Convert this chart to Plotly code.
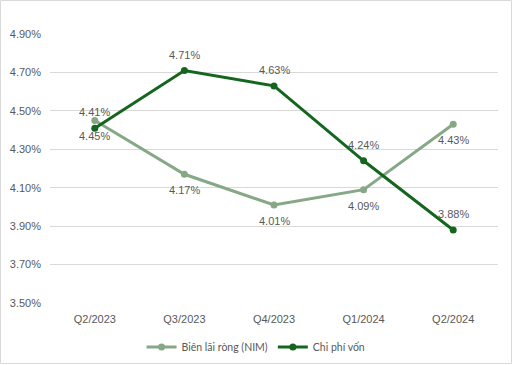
import plotly.graph_objects as go

categories = ["Q2/2023", "Q3/2023", "Q4/2023", "Q1/2024", "Q2/2024"]
nim = [4.45, 4.17, 4.01, 4.09, 4.43]
cost_of_funds = [4.41, 4.71, 4.63, 4.24, 3.88]
y_ticks = [3.5, 3.7, 3.9, 4.1, 4.3, 4.5, 4.7, 4.9]

W, H = 513, 365
ml, mr, mt, mb = 50, 15, 34, 62
pw, ph = W - ml - mr, H - mt - mb

light = "#87A887"
dark = "#14661E"
txt = "#595959"
lab_font = dict(family="Liberation Sans, Arial", size=11, color=txt)

fig = go.Figure()
fig.add_trace(go.Scatter(
    x=categories, y=nim, name="Biên lãi ròng (NIM)",
    mode="lines+markers",
    line=dict(color=light, width=3), marker=dict(size=7, color=light),
))
fig.add_trace(go.Scatter(
    x=categories, y=cost_of_funds, name="Chi phí vốn",
    mode="lines+markers",
    line=dict(color=dark, width=3), marker=dict(size=7, color=dark),
))

annotations = []
for c, v in zip(categories, nim):
    annotations.append(dict(x=c, y=v, text=f"{v:.2f}%", showarrow=False,
                            yshift=-16, font=lab_font))
for c, v in zip(categories, cost_of_funds):
    annotations.append(dict(x=c, y=v, text=f"{v:.2f}%", showarrow=False,
                            yshift=16, font=lab_font))

fig.update_layout(
    width=W, height=H,
    margin=dict(l=ml, r=mr, t=mt, b=mb, autoexpand=False),
    plot_bgcolor="white", paper_bgcolor="white",
    showlegend=True,
    annotations=annotations,
    legend=dict(orientation="h", x=0.46, xanchor="center", y=-0.11, yanchor="top",
                font=dict(family="Lato, Noto Sans", size=10.5, color=txt),
                itemwidth=30),
    xaxis=dict(type="category", range=[-0.5, 4.5], showgrid=False, showline=False,
               ticks="", ticklabelstandoff=8,
               tickfont=dict(family="Liberation Sans, Arial", size=11, color=txt)),
    yaxis=dict(range=[3.5, 4.9], tickvals=y_ticks,
               ticktext=[f"{v:.2f}%" for v in y_ticks],
               showgrid=True, gridcolor="#D9D9D9", gridwidth=1, zeroline=False,
               showline=False, ticks="", ticklabelstandoff=8,
               tickfont=dict(family="Liberation Sans, Arial", size=11, color=txt)),
    shapes=[dict(type="rect", xref="paper", yref="paper",
                 x0=(-ml + 0.5) / pw, x1=(pw + mr - 1.5) / pw,
                 y0=(-mb + 1.5) / ph, y1=(ph + mt - 0.5) / ph,
                 line=dict(color="#D9D9D9", width=1), layer="below")],
)

fig.write_html("out.html", config={"displayModeBar": False},
               post_script="document.body.style.margin='0';document.body.style.overflow='hidden';")
